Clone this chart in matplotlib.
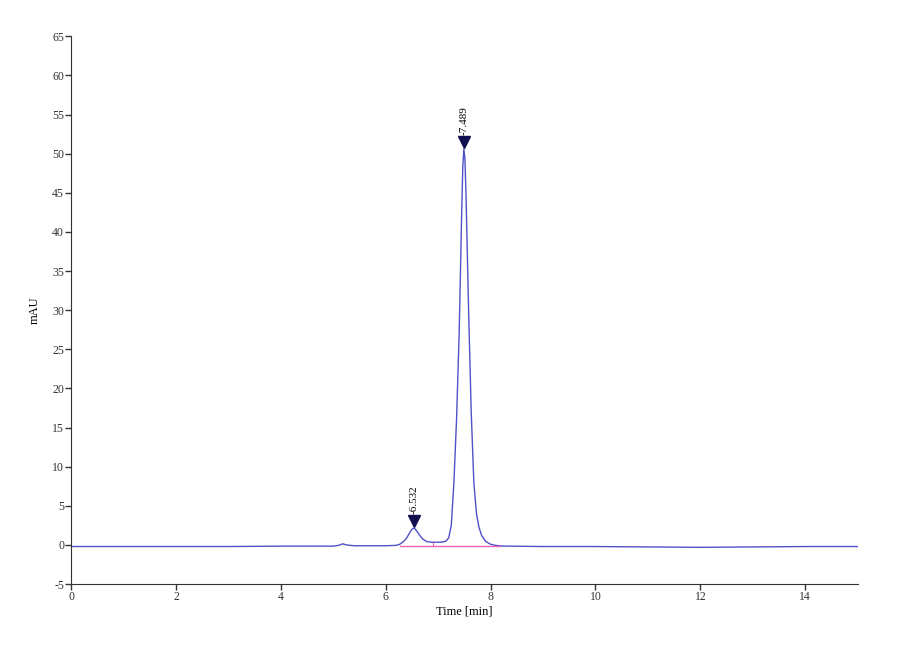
import numpy as np
import matplotlib.pyplot as plt
from matplotlib.transforms import offset_copy

# chromatogram (time in min, signal in mAU)
time = [0.0, 1.0, 2.0, 3.0, 4.0, 4.5, 5.0, 5.1, 5.18, 5.25, 5.4, 6.0, 6.2, 6.27,
        6.35, 6.4, 6.45, 6.5, 6.53, 6.56, 6.6, 6.65, 6.7, 6.75, 6.8, 6.9, 7.0,
        7.05, 7.1, 7.15, 7.2, 7.25, 7.3, 7.35, 7.4, 7.45, 7.47, 7.49, 7.51, 7.53,
        7.58, 7.63, 7.68, 7.73, 7.78, 7.83, 7.9, 7.98, 8.05, 8.15, 8.25, 8.4,
        9.0, 10.0, 11.0, 12.0, 13.0, 14.0, 15.0]
signal = [-0.2, -0.2, -0.2, -0.2, -0.15, -0.15, -0.15, -0.05, 0.15, 0.0, -0.1, -0.1, -0.05, 0.1,
          0.5, 0.9, 1.5, 2.0, 2.15, 2.05, 1.7, 1.2, 0.8, 0.55, 0.4, 0.35, 0.35,
          0.35, 0.4, 0.5, 0.9, 2.5, 8.0, 16.0, 27.0, 43.0, 48.5, 50.6, 49.3, 45.0,
          30.0, 17.0, 8.0, 4.0, 2.2, 1.2, 0.5, 0.15, 0.0, -0.1, -0.15, -0.15,
          -0.2, -0.2, -0.25, -0.3, -0.25, -0.2, -0.2]

# integration baseline
base_t = [6.28, 8.18]
base_y = [-0.1, -0.1]

# peak labels
peak_t = [6.532, 7.489]
peak_y = [2.15, 50.6]
peak_lab = ['-6.532', '-7.489']

plt.rcParams['font.family'] = ['Liberation Serif', 'DejaVu Serif']
plt.rcParams['axes.unicode_minus'] = False

fig = plt.figure(figsize=(9, 6.6), dpi=100)
ax = fig.add_axes([0.079, 0.115, 0.874, 0.83])

ax.plot(time, signal, color='#5050c8', lw=1.0)
ax.plot(base_t, base_y, color='#f060b0', lw=1.0)
ax.plot([6.905, 6.905], [-0.1, 0.3], color='#f060b0', lw=0.8)

for t, y, lab in zip(peak_t, peak_y, peak_lab):
    tr = offset_copy(ax.transData, fig=fig, x=0, y=5, units='points')
    ax.plot([t], [y], marker='v', color='#101050', markersize=8, transform=tr)
    ax.text(t, y, lab, rotation=90, ha='center', va='bottom', fontsize=8,
            transform=offset_copy(ax.transData, fig=fig, x=0, y=10, units='points'))

ax.set_xlim(0, 15)
ax.set_ylim(-5, 65)
ax.set_xticks(np.arange(0, 15, 2))
ax.set_yticks(np.arange(-5, 66, 5))
ax.spines['top'].set_visible(False)
ax.spines['right'].set_visible(False)
ax.spines['left'].set_color('#333333')
ax.spines['bottom'].set_color('#333333')
ax.tick_params(labelsize=8.5, length=4, width=1, pad=1, colors='#333333')
ax.set_xlabel('Time [min]', fontsize=9, labelpad=2)
ax.set_ylabel('mAU', fontsize=9, labelpad=8)

fig.savefig('out.png', dpi=100)
